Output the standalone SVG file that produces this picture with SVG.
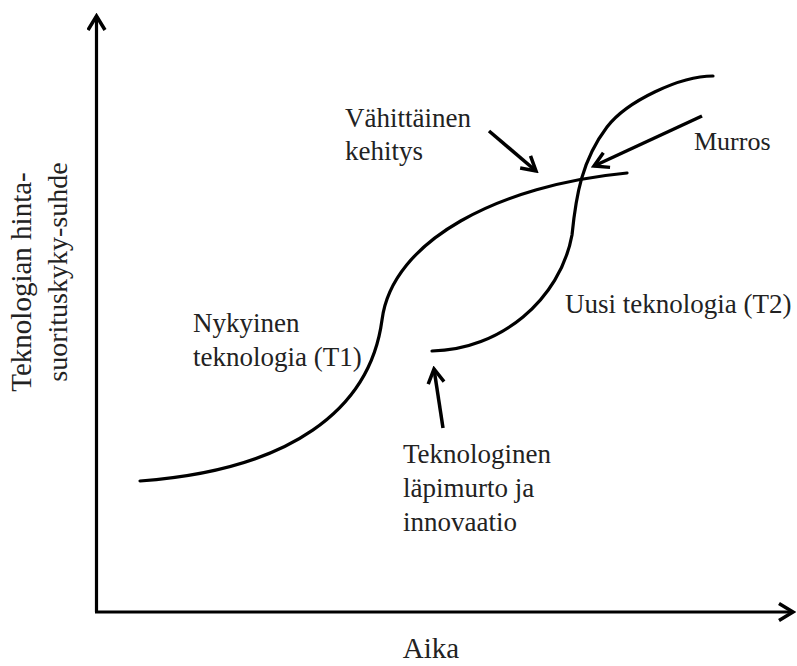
<svg xmlns="http://www.w3.org/2000/svg" width="797" height="666" viewBox="0 0 797 666">
<style>
.t{font-family:"Liberation Serif","Times New Roman",serif;font-size:27px;fill:#222}
.ax{stroke:#000;stroke-width:3.2;fill:none}
.cv{stroke:#000;stroke-width:3.2;fill:none;stroke-linecap:round}
.ar{stroke:#000;stroke-width:3.5;fill:none;marker-end:url(#head)}
</style>
<defs>
<marker id="head" markerUnits="userSpaceOnUse" viewBox="0 0 20 20" markerWidth="20" markerHeight="20" refX="17" refY="10" orient="auto">
<path d="M3,2 L17,10 L3,18" fill="none" stroke="#000" stroke-width="3.5" stroke-linejoin="miter"/>
</marker>
<marker id="axhead" markerUnits="userSpaceOnUse" viewBox="0 0 20 20" markerWidth="20" markerHeight="20" refX="17" refY="10" orient="auto">
<path d="M3,1.5 L17,10 L3,18.5" fill="none" stroke="#000" stroke-width="3.5"/>
</marker>
</defs>
<g id="axes">
<path class="ax" d="M96.5,612 L96.5,16" marker-end="url(#axhead)"/>
<path class="ax" d="M95,612 L793,612" marker-end="url(#axhead)"/>
</g>
<g id="curves">
<path id="t1" class="cv" d="M140,481 C290,470 370,410 382,320 C392,240 500,185 627,173"/>
<path id="t2" class="cv" d="M432,351 C500,350 560,300 572,235 C576,195 582,160 607,127 C627,101 680,76 713,76"/>
</g>
<g id="connectors">
<path class="ar" d="M489,131 L536,171"/>
<path class="ar" d="M702,116 L594,166"/>
<path class="ar" d="M443,428 L434,369"/>
</g>
<g id="label-vahittainen">
<text class="t" x="345" y="127">Vähittäinen</text>
<text class="t" x="345" y="160">kehitys</text>
</g>
<g id="label-murros">
<text class="t" x="694" y="150" style="font-size:26px">Murros</text>
</g>
<g id="label-t1">
<text class="t" x="193" y="332">Nykyinen</text>
<text class="t" x="193" y="366">teknologia (T1)</text>
</g>
<g id="label-t2">
<text class="t" x="565" y="313">Uusi teknologia (T2)</text>
</g>
<g id="label-lapimurto">
<text class="t" x="403" y="463">Teknologinen</text>
<text class="t" x="403" y="497">läpimurto ja</text>
<text class="t" x="403" y="531">innovaatio</text>
</g>
<g id="label-x">
<text class="t" x="431" y="658" text-anchor="middle" style="font-size:29px">Aika</text>
</g>
<g id="label-y">
<text class="t" transform="translate(31,282) rotate(-90)" text-anchor="middle" style="font-size:29px">Teknologian hinta-</text>
<text class="t" transform="translate(67,272) rotate(-90)" text-anchor="middle" style="font-size:28px">suorituskyky-suhde</text>
</g>
</svg>
